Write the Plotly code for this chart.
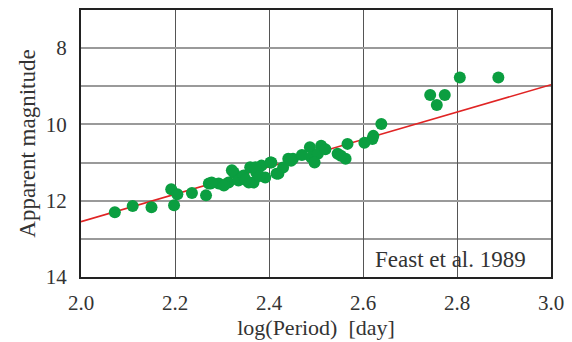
import plotly.graph_objects as go

log_period = [2.072, 2.110, 2.150, 2.192, 2.205, 2.198, 2.236, 2.266, 2.276, 2.272,
              2.293, 2.314, 2.325, 2.335, 2.346, 2.360, 2.367, 2.373, 2.384, 2.392,
              2.403, 2.420, 2.441, 2.451, 2.430, 2.487, 2.490, 2.511, 2.504, 2.497,
              2.546, 2.563, 2.567, 2.603, 2.620, 2.639, 2.622, 2.553, 2.447, 2.416,
              2.405, 2.371, 2.357, 2.321, 2.304, 2.278, 2.743, 2.774, 2.757, 2.806,
              2.888, 2.380, 2.350, 2.470, 2.520]
app_mag = [12.30, 12.14, 12.17, 11.70, 11.83, 12.12, 11.80, 11.86, 11.55, 11.55,
           11.55, 11.52, 11.26, 11.47, 11.34, 11.12, 11.52, 11.26, 11.08, 11.39,
           11.00, 11.29, 10.90, 10.90, 11.13, 10.60, 10.87, 10.56, 10.77, 11.00,
           10.77, 10.90, 10.51, 10.48, 10.38, 9.99, 10.30, 10.82, 10.95, 11.29,
           11.00, 11.12, 11.52, 11.20, 11.60, 11.52, 9.23, 9.23, 9.49, 8.77,
           8.77, 11.35, 11.45, 10.80, 10.65]

fit_x = [2.0, 3.0]
fit_y = [12.55, 8.96]

x_ticks = [2.0, 2.2, 2.4, 2.6, 2.8, 3.0]
x_tick_text = ["2.0", "2.2", "2.4", "2.6", "2.8", "3.0"]
y_ticks = [8, 10, 12, 14]
y_tick_text = ["8", "10", "12", "14"]

fig = go.Figure()
fig.add_trace(go.Scatter(x=fit_x, y=fit_y, mode="lines",
                         line=dict(color="#e02424", width=1.6), hoverinfo="skip"))
fig.add_trace(go.Scatter(x=log_period, y=app_mag, mode="markers",
                         marker=dict(color="#0b9e40", size=12, line=dict(width=0))))

font_family = "Liberation Serif"
fig.update_layout(
    width=572, height=342,
    margin=dict(l=81, r=17, t=8, b=65),
    paper_bgcolor="white", plot_bgcolor="white",
    showlegend=False,
    font=dict(family=font_family, size=21, color="#333333"),
    xaxis=dict(range=[2.0, 3.0], tickvals=x_ticks, ticktext=x_tick_text,
               tickfont=dict(family=font_family, size=21, color="#333333"),
               showgrid=True, gridcolor="#555555", gridwidth=1,
               showline=True, linecolor="#222222", linewidth=2, mirror=True,
               ticks="outside", ticklen=6, tickcolor="rgba(0,0,0,0)", zeroline=False,
               title=dict(text="log(Period)  [day]", standoff=2,
                          font=dict(family=font_family, size=22, color="#333333"))),
    yaxis=dict(range=[14, 7], tickvals=y_ticks, ticktext=y_tick_text,
               tickfont=dict(family=font_family, size=21, color="#333333"),
               showgrid=True, gridcolor="#9a9a9a", gridwidth=2,
               minor=dict(tickvals=[9, 11, 13], showgrid=True, gridcolor="#9a9a9a", gridwidth=2, ticks=""),
               showline=True, linecolor="#222222", linewidth=2, mirror=True,
               ticks="outside", ticklen=8, tickcolor="rgba(0,0,0,0)", zeroline=False,
               title=dict(text="Apparent magnitude", standoff=4,
                          font=dict(family=font_family, size=23, color="#333333"))),
    annotations=[dict(x=0.951, y=13.55, xref="paper", yref="y",
                      text="Feast et al. 1989", showarrow=False,
                      xanchor="right", yanchor="middle",
                      font=dict(family=font_family, size=23, color="#333333"))],
)

fig.write_html("out.html")
